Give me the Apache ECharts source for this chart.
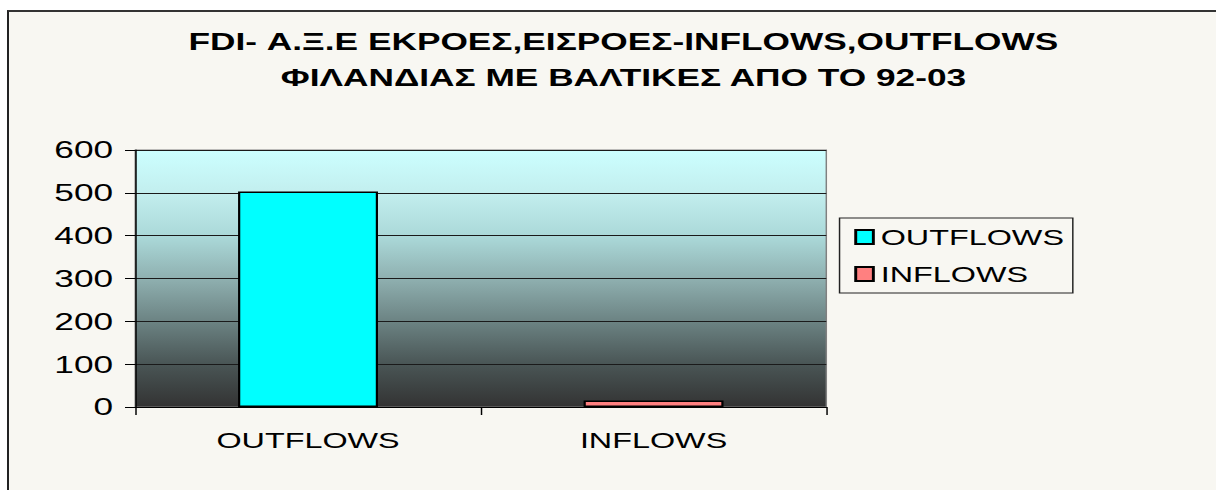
<!DOCTYPE html>
<html>
<head>
<meta charset="utf-8">
<script src="https://cdn.jsdelivr.net/npm/echarts@6/dist/echarts.min.js"></script>
<style>
	html, body { margin: 0; padding: 0; background: #ffffff; overflow: hidden; }
	#frame {
		position: absolute; left: 7px; top: 10px; width: 1230px; height: 500px;
		background: #f8f7f2; border-top: 2px solid #333333; border-left: 2px solid #222222;
	}
	/* the original picture is stretched sideways, so the chart is drawn narrow and widened */
	#chart-one {
		position: absolute; left: 0; top: 0; width: 827px; height: 490px;
		transform: scaleX(1.4703); transform-origin: 0 0;
	}
</style>
</head>
<body>
<div id="frame"></div>
<div id="chart-one"></div>
<script>
var categories = ['OUTFLOWS', 'INFLOWS'];
var outflows = [503, '-'];
var inflows = ['-', 15];
var yTicks = { min: 0, max: 600, interval: 100 };

var FlowChart = function(){
	this.mychart = echarts.init(document.getElementById('chart-one'), null, { renderer: 'svg' });

	this.initChart = function(){
		var font = 'Liberation Sans, Arial, sans-serif';
		var option = {
			animation: false,
			title: {
				'text': 'FDI- Α.Ξ.Ε ΕΚΡΟΕΣ,ΕΙΣΡΟΕΣ-INFLOWS,OUTFLOWS\nΦΙΛΑΝΔΙΑΣ ΜΕ ΒΑΛΤΙΚΕΣ ΑΠΟ ΤΟ 92-03',
				'left': 424,
				'top': 24,
				'textAlign': 'center',
				'padding': 0,
				'textStyle': {
					'color': '#000',
					'fontFamily': font,
					'fontWeight': 'bold',
					'fontSize': 24,
					'lineHeight': 35.5
				}
			},
			legend: {
				'orient': 'vertical',
				'left': 571,
				'top': 218,
				'padding': [8, 6, 8, 10],
				'itemWidth': 12,
				'itemHeight': 14,
				'itemGap': 15,
				'borderColor': '#222',
				'borderWidth': 1,
				'icon': 'rect',
				'textStyle': { 'color': '#000', 'fontFamily': font, 'fontSize': 22 },
				'data': categories
			},
			grid: {
				'left': 92,
				'right': 265,
				'top': 150,
				'bottom': 83,
				'show': true,
				'borderColor': '#808080',
				'borderWidth': 1,
				'backgroundColor': {
					'type': 'linear', 'x': 0, 'y': 0, 'x2': 0, 'y2': 1,
					'colorStops': [
						{ 'offset': 0, 'color': '#ccffff' },
						{ 'offset': 0.17, 'color': '#c2eeee' },
						{ 'offset': 0.34, 'color': '#aad8d8' },
						{ 'offset': 0.5, 'color': '#8fb0b0' },
						{ 'offset': 0.67, 'color': '#6b8282' },
						{ 'offset': 0.83, 'color': '#4a5656' },
						{ 'offset': 1, 'color': '#333333' }
					]
				}
			},
			xAxis: {
				'type': 'category',
				'data': categories,
				'axisLine': { 'lineStyle': { 'color': '#000', 'width': 1 } },
				'axisTick': { 'show': true, 'length': 8, 'lineStyle': { 'color': '#000' } },
				'axisLabel': { 'color': '#000', 'fontFamily': font, 'fontSize': 22, 'margin': 22 }
			},
			yAxis: {
				'type': 'value',
				'min': yTicks.min,
				'max': yTicks.max,
				'interval': yTicks.interval,
				'axisLine': { 'show': true, 'lineStyle': { 'color': '#000', 'width': 1 } },
				'axisTick': { 'show': true, 'length': 7, 'lineStyle': { 'color': '#000' } },
				'axisLabel': { 'color': '#000', 'fontFamily': font, 'fontSize': 24, 'margin': 15 },
				'splitLine': { 'show': true, 'lineStyle': { 'color': '#1a1a1a', 'width': 1 } }
			},
			series: [{
				'name': 'OUTFLOWS',
				'type': 'bar',
				'stack': 'flows',
				'barWidth': '40.5%',
				'itemStyle': { 'color': '#00ffff', 'borderColor': '#000', 'borderWidth': 1.5 },
				'data': outflows
			}, {
				'name': 'INFLOWS',
				'type': 'bar',
				'stack': 'flows',
				'barWidth': '40.5%',
				'itemStyle': { 'color': '#ff8080', 'borderColor': '#000', 'borderWidth': 1.5 },
				'data': inflows
			}]
		};

		this.mychart.setOption(option);
	};
};

var chart = new FlowChart();
chart.initChart();
</script>
</body>
</html>
